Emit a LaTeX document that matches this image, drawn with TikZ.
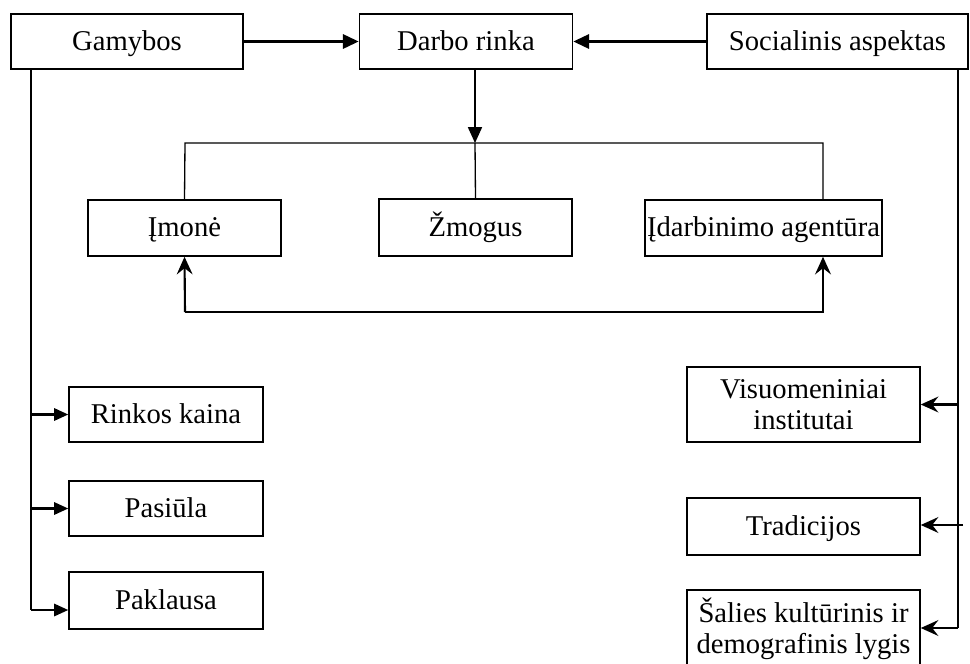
\documentclass[tikz,border=0pt]{standalone}
\usepackage{fontspec}
\setmainfont{Liberation Serif}
\usetikzlibrary{arrows.meta, positioning}

\begin{document}
\begin{tikzpicture}[x=0.02cm, y=-0.02cm,
    box/.style={draw, line width=0.9pt, minimum height=1.1cm, inner sep=1pt,
      align=center, font=\fontsize{16.3}{17.5}\selectfont},
    one/.style={box, text height=2.6ex, text depth=0.4ex},
    thin/.style={line width=0.75pt},
    main/.style={line width=1.7pt, -{Triangle[length=9pt, width=8pt]}},
    side/.style={line width=1.2pt, -{Triangle[length=8pt, width=7pt]}},
    back/.style={line width=1.2pt, -{Stealth[length=10pt, width=9pt, inset=3.5pt]}}]
  \useasboundingbox (0, 0) rectangle (970, 663);
  \clip (0, 0) rectangle (970, 663);

  \node[one, minimum width=4.64cm] (gamybos) at (127, 41.5) {Gamybos};
  \node[one, minimum width=4.26cm] (darbo) at (466, 41.5) {Darbo rinka};
  \node[one, minimum width=5.22cm] (social) at (837.5, 41.5) {Socialinis aspektas};

  \node[one, minimum width=3.86cm, minimum height=1.12cm] (imone) at (184.5, 228) {Įmonė};
  \node[one, minimum width=3.86cm, minimum height=1.14cm] (zmogus) at (475.5, 227.5) {Žmogus};
  \node[one, minimum width=4.58cm, minimum height=1.12cm] (agent) at (763.5, 228) {Įdarbinimo agentūra};

  \node[one, minimum width=3.88cm] (rinkos) at (166, 414.5) {Rinkos kaina};
  \node[one, minimum width=3.88cm] (pasiula) at (166, 508.5) {Pasiūla};
  \node[one, minimum width=3.88cm, minimum height=1.14cm] (paklausa) at (166, 600.5) {Paklausa};

  \node[box, minimum width=4.66cm, minimum height=1.5cm] (visuom) at (803.5, 404.5) {Visuomeniniai\\institutai};
  \node[one, minimum width=4.66cm, minimum height=1.14cm] (tradic) at (803.5, 526.5) {Tradicijos};
  \node[box, minimum width=4.66cm, minimum height=1.56cm] (salies) at (803.5, 629) {Šalies kultūrinis ir\\demografinis lygis};

  \coordinate (br) at (475, 143);
  \coordinate (bl) at (185, 143);
  \coordinate (bra) at (823, 143);
  \coordinate (low) at (185, 312);
  \coordinate (lowa) at (823, 312);
  \coordinate (gl) at (31, 610);
  \coordinate (sl) at (958, 628);
  \coordinate (st) at (963, 525);

  \draw[main] (gamybos) -- (darbo);
  \draw[main] (social) -- (darbo);
  \draw[thin, -{Triangle[length=9pt, width=8pt]}] (darbo.south -| br) -- (br);

  \draw[thin] (imone.north) -- (bl) -- (bra) -- (agent.north -| bra);
  \draw[thin] (zmogus.north) -- (br);
  \draw[back] (low) -- (imone.south);
  \draw[back] (low) -- (lowa) -- (agent.south -| lowa);

  \draw[thin] (gamybos.south -| gl) -- (gl);
  \draw[side] (gl |- rinkos) -- (rinkos);
  \draw[side] (gl |- pasiula) -- (pasiula);
  \draw[side] (gl) -- (paklausa.west |- gl);

  \draw[thin] (social.south -| sl) -- (sl);
  \draw[back] (sl |- visuom) -- (visuom);
  \draw[back] (st) -- (tradic.east |- st);
  \draw[back] (sl) -- (salies.east |- sl);
\end{tikzpicture}
\end{document}
